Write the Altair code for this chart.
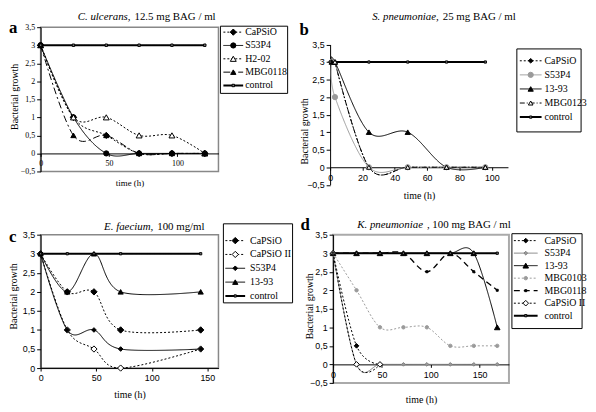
import altair as alt
import pandas as pd

SERIF = "Liberation Serif"
SANS = "Liberation Sans"
COMMA = "replace(format(datum.value, '.1~f'), '.', ',')"

# ---------------- panel a : C. ulcerans ----------------
A_TIME = [0, 24, 48, 72, 96, 120]
A_CAPSIO = [3, 1, 0.5, 0, 0, 0]
A_S53P4 = [3, 1, 0, 0, 0, 0]
A_H2_02 = [3, 1, 1, 0.5, 0.5, 0]
A_MBG0118 = [3, 0.5, 0.5, 0, 0, 0]
A_CONTROL = [3, 3, 3, 3, 3, 3]
A_NAMES = ["CaPSiO", "S53P4", "H2-02", "MBG0118", "control"]

# ---------------- panel b : S. pneumoniae ----------------
B_TIME_LATE = [3, 24, 48, 72, 96]
B_TIME_FULL = [1, 3, 24, 48, 72, 96]
B_TIME_CONTROL = [0, 24, 48, 72, 96]
B_CAPSIO = [3, 0, 0, 0, 0]
B_S53P4 = [3, 2, 0, 0, 0, 0]
B_13_93 = [3, 3, 1, 1, 0, 0]
B_MBG0123 = [3, 0, 0, 0, 0]
B_CONTROL = [3, 3, 3, 3, 3]
B_NAMES = ["CaPSiO", "S53P4", "13-93", "MBG0123", "control"]

# ---------------- panel c : E. faecium ----------------
C_TIME = [0, 24, 48, 72, 144]
C_CAPSIO = [3, 2, 2, 1, 1]
C_CAPSIO_II = [3, 1, 0.5, 0, 0.5]
C_S53P4 = [3, 1, 1, 0.5, 0.5]
C_13_93 = [3, 2, 3, 2, 2]
C_CONTROL = [3, 3, 3, 3, 3]
C_NAMES = ["CaPSiO", "CaPSiO II", "S53P4", "13-93", "control"]

# ---------------- panel d : K. pneumoniae ----------------
D_TIME = [0, 24, 48, 72, 96, 120, 144, 168]
D_TIME_SHORT = [0, 24, 48]
D_CAPSIO = [3, 0.5, 0]
D_S53P4 = [3, 0, 0, 0, 0, 0, 0, 0]
D_13_93 = [3, 3, 3, 3, 3, 3, 3, 1]
D_MBG0103 = [3, 2, 1, 1, 1, 0.5, 0.5, 0.5]
D_MBG0118 = [3, 3, 3, 3, 2.5, 3, 2.5, 2]
D_CAPSIO_II = [3, 0, 0]
D_CONTROL = [3, 3, 3, 3, 3, 3, 3, 3]
D_NAMES = ["CaPSiO", "S53P4", "13-93", "MBG0103", "MBG0118", "CaPSiO II", "control"]

Y_TICKS_FULL = [-0.5, 0, 0.5, 1, 1.5, 2, 2.5, 3, 3.5]
Y_TICKS_POS = [0, 0.5, 1, 1.5, 2, 2.5, 3, 3.5]

SOLID = [1, 0]
DOT = [2, 2]

STYLE_CHANNELS = dict(stroke="independent", strokeDash="independent",
                      strokeWidth="independent", shape="independent",
                      fill="independent", size="independent")


def st(color, dash, width, shape, fill, size):
    return dict(color=color, dash=dash, width=width, shape=shape, fill=fill, size=size)


def frame(series):
    rows = []
    for name, times, vals in series:
        for t, v in zip(times, vals):
            rows.append({"series": name, "time": t, "growth": v})
    return pd.DataFrame(rows)


def panel(series, names, styles, p):
    df = frame(series)
    w, h, top = p["w"], p["h"], p["top"]

    def sc(key):
        return alt.Scale(type="ordinal", domain=names, range=[styles[n][key] for n in names])

    stroke = alt.Stroke("series:N", scale=sc("color"), legend=None)
    dash = alt.StrokeDash("series:N", scale=sc("dash"), legend=None)
    width = alt.StrokeWidth("series:N", scale=sc("width"), legend=None)
    shape = alt.Shape("series:N", scale=sc("shape"), legend=None)
    fill = alt.Fill("series:N", scale=sc("fill"), legend=None)
    size = alt.Size("series:N", scale=sc("size"), legend=None)

    x = alt.X(
        "time:Q",
        scale=alt.Scale(domain=p["xdomain"], nice=False, zero=False),
        axis=alt.Axis(
            values=p["xvalues"], grid=False, offset=p["xoffset"],
            labelFont=p["tickfont"], labelFontSize=p["ticksize"], labelColor="black",
            labelPadding=3, tickSize=3, tickColor="black", domainColor="black",
            labelFlush=False,
            title="time (h)", titleFont=SERIF, titleFontSize=p["xtitlesize"],
            titleFontWeight="normal", titleColor="black",
            titleY=p["xtitle_y"], titleBaseline="middle",
        ),
    )
    y = alt.Y(
        "growth:Q",
        scale=alt.Scale(domain=p["ydomain"], range=[top + h, top], nice=False, zero=False),
        axis=alt.Axis(
            values=p["yvalues"], grid=False, labelExpr=COMMA,
            labelFont=p["tickfont"], labelFontSize=p["ticksize"], labelColor="black",
            labelPadding=2, tickSize=4, tickColor="black", domainColor="black",
            title="Bacterial growth", titleFont=SERIF, titleFontSize=10,
            titleFontWeight="normal", titleColor="black",
            titleX=p["ytitle_x"], titleY=p["ytitle_y"],
        ),
    )

    base = alt.Chart(df)
    lines = base.mark_line(interpolate="cardinal").encode(
        x=x, y=y, stroke=stroke, strokeDash=dash, strokeWidth=width)
    points = base.mark_point(filled=True, opacity=1, strokeWidth=1).encode(
        x=x, y=y, shape=shape, fill=fill, stroke=stroke, size=size)
    plot = alt.layer(lines, points)

    # legend drawn beside the plot
    L = p["legend"]
    ldf = pd.DataFrame({"series": names})
    ly = alt.Y("series:N", sort=names, axis=None,
               scale=alt.Scale(type="point", domain=names, range=L["ys"], padding=0))
    one = pd.DataFrame({"k": [0]})
    box = alt.Chart(one).mark_rect(fill="white", stroke="black", strokeWidth=1).encode(
        x=alt.value(w + L["box"][0]), x2=alt.value(w + L["box"][1]),
        y=alt.value(L["box"][2]), y2=alt.value(L["box"][3]))
    lrule = alt.Chart(ldf).mark_rule().encode(
        x=alt.value(w + L["line"][0]), x2=alt.value(w + L["line"][1]), y=ly,
        stroke=stroke, strokeDash=dash, strokeWidth=width)
    lpts = alt.Chart(ldf).mark_point(filled=True, opacity=1, strokeWidth=1).encode(
        x=alt.value(w + L["marker"]), y=ly, shape=shape, fill=fill, stroke=stroke, size=size)
    ltxt = alt.Chart(ldf).mark_text(align="left", baseline="middle", font=SERIF,
                                    fontSize=10, color="black").encode(
        x=alt.value(w + L["text"]), y=ly, text="series:N")
    legend = alt.layer(box, lrule, lpts, ltxt)

    t_it = alt.Chart(pd.DataFrame({"t": [p["title_it"]]})).mark_text(
        align="right", baseline="middle", font=SERIF, fontSize=11, fontStyle="italic",
        color="black").encode(x=alt.value(p["title_x"] - 2), y=alt.value(p["title_y"]), text="t:N")
    t_rest = alt.Chart(pd.DataFrame({"t": [p["title_rest"]]})).mark_text(
        align="left", baseline="middle", font=SERIF, fontSize=11,
        color="black").encode(x=alt.value(p["title_x"] + 2), y=alt.value(p["title_y"]), text="t:N")
    letter = alt.Chart(pd.DataFrame({"t": [p["letter"]]})).mark_text(
        align="left", baseline="middle", font=SERIF, fontSize=17, fontWeight="bold",
        color="black").encode(x=alt.value(p["letter_x"]), y=alt.value(p["letter_y"]), text="t:N")

    return alt.layer(plot, legend, t_it, t_rest, letter).resolve_scale(
        y="independent"
    ).properties(
        width=w, height=top + h,
        view=alt.ViewBackground(stroke=p["box_color"], strokeWidth=p["box_width"]),
    )


# ---------------- styles ----------------
STY_A = {
    "CaPSiO": st("black", DOT, 1, "diamond", "black", 40),
    "S53P4": st("black", SOLID, 1, "circle", "black", 28),
    "H2-02": st("black", DOT, 1, "triangle-up", "white", 36),
    "MBG0118": st("black", [7, 3, 2, 3], 1, "triangle-up", "black", 28),
    "control": st("black", SOLID, 2, "square", "#808080", 6),
}
STY_B = {
    "CaPSiO": st("black", DOT, 1, "diamond", "black", 22),
    "S53P4": st("#9a9a9a", SOLID, 1, "circle", "#9a9a9a", 28),
    "13-93": st("black", SOLID, 1, "triangle-up", "black", 28),
    "MBG0123": st("black", [5, 2, 1, 2], 1, "triangle-up", "white", 22),
    "control": st("black", SOLID, 2, "square", "#808080", 5),
}
STY_C = {
    "CaPSiO": st("black", DOT, 1, "diamond", "black", 42),
    "CaPSiO II": st("black", DOT, 1, "diamond", "white", 40),
    "S53P4": st("black", SOLID, 1, "diamond", "black", 22),
    "13-93": st("black", SOLID, 1, "triangle-up", "black", 28),
    "control": st("black", SOLID, 2, "square", "#808080", 5),
}
STY_D = {
    "CaPSiO": st("black", DOT, 1, "diamond", "black", 22),
    "S53P4": st("#808080", SOLID, 1, "diamond", "#9a9a9a", 14),
    "13-93": st("black", SOLID, 1, "triangle-up", "black", 32),
    "MBG0103": st("#9a9a9a", DOT, 1, "circle", "#9a9a9a", 12),
    "MBG0118": st("black", [6, 4], 1.3, "square", "black", 4),
    "CaPSiO II": st("black", DOT, 1, "diamond", "white", 32),
    "control": st("black", SOLID, 2, "square", "#808080", 5),
}

panel_a = panel(
    [("CaPSiO", A_TIME, A_CAPSIO), ("S53P4", A_TIME, A_S53P4), ("H2-02", A_TIME, A_H2_02),
     ("MBG0118", A_TIME, A_MBG0118), ("control", A_TIME, A_CONTROL)],
    A_NAMES, STY_A,
    dict(w=180, h=146, top=0, xdomain=[0, 130], xvalues=[0, 50, 100],
         ydomain=[-0.5, 3.5], yvalues=Y_TICKS_FULL, xoffset=-146 / 8,
         tickfont=SERIF, ticksize=8, xtitlesize=9, xtitle_y=29,
         ytitle_x=-21, ytitle_y=70,
         title_it="C. ulcerans,", title_rest="12.5 mg BAG / ml", title_x=93, title_y=-10,
         letter="a", letter_x=-32, letter_y=1,
         box_color="#888888", box_width=1.5,
         legend=dict(box=[2, 70, -1, 67], ys=[5, 59], line=[5, 25], marker=15, text=27)),
)

panel_b = panel(
    [("CaPSiO", B_TIME_LATE, B_CAPSIO), ("S53P4", B_TIME_FULL, B_S53P4),
     ("13-93", B_TIME_FULL, B_13_93), ("MBG0123", B_TIME_LATE, B_MBG0123),
     ("control", B_TIME_CONTROL, B_CONTROL)],
    B_NAMES, STY_B,
    dict(w=180, h=142, top=17.5, xdomain=[0, 110], xvalues=[0, 20, 40, 60, 80, 100],
         ydomain=[-0.5, 3.5], yvalues=Y_TICKS_FULL, xoffset=-142 / 8,
         tickfont=SANS, ticksize=9, xtitlesize=10, xtitle_y=29,
         ytitle_x=-21, ytitle_y=105,
         title_it="S. pneumoniae,", title_rest="25 mg BAG / ml", title_x=112, title_y=-10,
         letter="b", letter_x=-31, letter_y=3,
         box_color="transparent", box_width=0,
         legend=dict(box=[9, 74, 22, 106], ys=[34, 91], line=[12, 34], marker=23, text=37)),
)

panel_c = panel(
    [("CaPSiO", C_TIME, C_CAPSIO), ("CaPSiO II", C_TIME, C_CAPSIO_II),
     ("S53P4", C_TIME, C_S53P4), ("13-93", C_TIME, C_13_93), ("control", C_TIME, C_CONTROL)],
    C_NAMES, STY_C,
    dict(w=180, h=135, top=0, xdomain=[0, 160], xvalues=[0, 50, 100, 150],
         ydomain=[0, 3.5], yvalues=Y_TICKS_POS, xoffset=0,
         tickfont=SANS, ticksize=9, xtitlesize=10, xtitle_y=27,
         ytitle_x=-22, ytitle_y=62,
         title_it="E. faecium,", title_rest="100 mg/ml", title_x=116, title_y=-8,
         letter="c", letter_x=-32, letter_y=2,
         box_color="#888888", box_width=1.5,
         legend=dict(box=[5, 75, -11, 69], ys=[6, 62], line=[7, 27], marker=17, text=32)),
)

panel_d = panel(
    [("CaPSiO", D_TIME_SHORT, D_CAPSIO), ("S53P4", D_TIME, D_S53P4), ("13-93", D_TIME, D_13_93),
     ("MBG0103", D_TIME, D_MBG0103), ("MBG0118", D_TIME, D_MBG0118),
     ("CaPSiO II", D_TIME_SHORT, D_CAPSIO_II), ("control", D_TIME, D_CONTROL)],
    D_NAMES, STY_D,
    dict(w=178, h=150, top=0, xdomain=[0, 180], xvalues=[0, 50, 100, 150],
         ydomain=[-0.5, 3.5], yvalues=Y_TICKS_FULL, xoffset=-150 / 8,
         tickfont=SANS, ticksize=9, xtitlesize=10, xtitle_y=36,
         ytitle_x=-19, ytitle_y=72,
         title_it="K. pneumoniae", title_rest=", 100 mg BAG / ml", title_x=93, title_y=-10,
         letter="d", letter_x=-33, letter_y=-10,
         box_color="#aaaaaa", box_width=2,
         legend=dict(box=[3, 74, -1, 95], ys=[6, 82], line=[5, 29], marker=17, text=36)),
)

row1 = alt.hconcat(panel_a, panel_b, spacing=10).resolve_scale(**STYLE_CHANNELS)
row2 = alt.hconcat(panel_c, panel_d, spacing=5).resolve_scale(**STYLE_CHANNELS)

chart = alt.vconcat(row1, row2, spacing=14).resolve_scale(**STYLE_CHANNELS).properties(
    padding=0, background="white"
).configure_view(strokeWidth=0)

chart.save("out.html", embed_options={"renderer": "svg", "actions": False})
